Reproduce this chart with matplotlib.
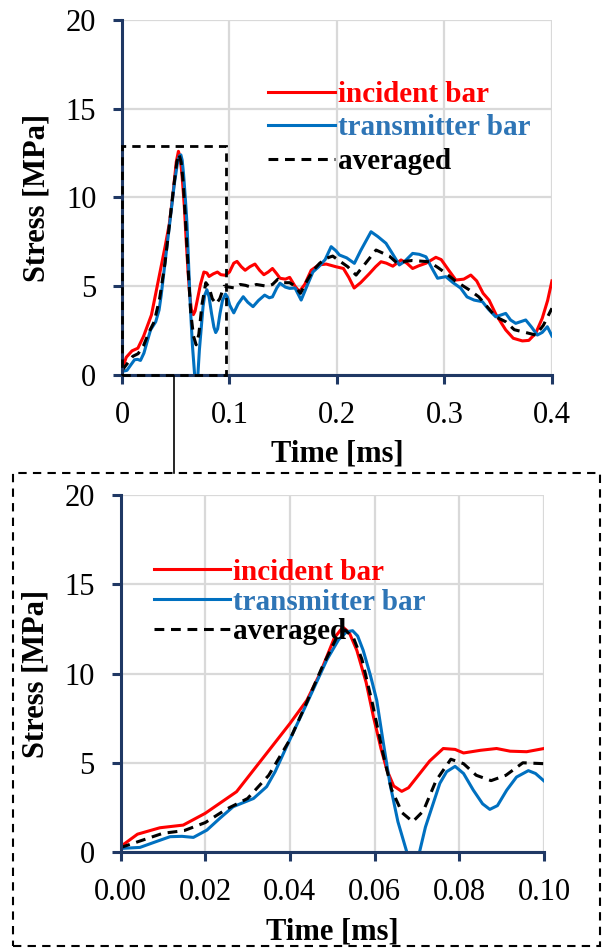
import numpy as np
import matplotlib
matplotlib.use("Agg")
import matplotlib.pyplot as plt
from matplotlib.patches import Rectangle
from matplotlib.lines import Line2D

plt.rcParams['font.family'] = ['Liberation Serif', 'DejaVu Serif']

# incident bar
t_inc = [0, 0.004, 0.0093, 0.0148, 0.020, 0.0274, 0.0345, 0.040, 0.044, 0.0471,
         0.0505, 0.0525, 0.054, 0.0558, 0.058, 0.0597, 0.0615, 0.0629, 0.0645, 0.0664,
         0.068, 0.070, 0.073, 0.0762, 0.079, 0.081, 0.085, 0.0888, 0.092, 0.0959,
         0.1, 0.104, 0.107, 0.111, 0.1146, 0.119, 0.1237, 0.128, 0.132, 0.136,
         0.14, 0.144, 0.147, 0.152, 0.156, 0.161, 0.165, 0.17, 0.176, 0.183,
         0.19, 0.199, 0.206, 0.211, 0.216, 0.222, 0.23, 0.236, 0.241, 0.246,
         0.252, 0.2596, 0.265, 0.2704, 0.276, 0.283, 0.292, 0.297, 0.304, 0.3106,
         0.318, 0.3245, 0.33, 0.336, 0.3415, 0.348, 0.357, 0.364, 0.3725, 0.3785,
         0.3849, 0.391, 0.396, 0.4]
s_inc = [0.3, 1.0, 1.36, 1.51, 2.17, 3.38, 5.53, 7.2, 8.5, 10.0,
         12.0, 12.6, 12.3, 11.3, 9.5, 7.6, 5.8, 4.6, 3.7, 3.4,
         3.6, 4.2, 5.1, 5.8, 5.75, 5.55, 5.7, 5.8, 5.65, 5.62,
         5.8, 6.3, 6.4, 6.1, 5.9, 6.1, 6.25, 5.9, 5.65, 5.8,
         6.0, 5.7, 5.45, 5.4, 5.5, 5.0, 4.7, 5.1, 5.9, 6.2,
         6.25, 6.1, 6.0, 5.5, 4.9, 5.2, 5.7, 6.1, 6.38, 6.3,
         6.13, 6.48, 6.3, 6.0, 6.15, 6.3, 6.63, 6.5, 5.9, 5.35,
         5.4, 5.63, 5.3, 4.6, 4.22, 3.4, 2.54, 2.07, 1.92, 1.95,
         2.35, 3.2, 4.2, 5.3]

# transmitter bar
t_tra = [0, 0.0046, 0.008, 0.0117, 0.0145, 0.0172, 0.0204, 0.0235, 0.0266, 0.0314,
         0.0345, 0.0365, 0.0392, 0.044, 0.0487, 0.0515, 0.0534, 0.0548, 0.056, 0.0573,
         0.059, 0.0605, 0.062, 0.0636, 0.0655, 0.0676, 0.069, 0.0703, 0.072, 0.0754,
         0.077, 0.079, 0.081, 0.0833, 0.0855, 0.0872, 0.089, 0.0912, 0.0935, 0.0963,
         0.098, 0.1002, 0.104, 0.108, 0.1128, 0.117, 0.1219, 0.127, 0.1327, 0.137,
         0.14, 0.144, 0.147, 0.152, 0.156, 0.161, 0.1667, 0.172, 0.1776, 0.183,
         0.189, 0.1946, 0.199, 0.2023, 0.209, 0.2162, 0.222, 0.2317, 0.238, 0.2456,
         0.252, 0.258, 0.263, 0.2704, 0.2765, 0.2828, 0.2885, 0.2936, 0.3013, 0.308,
         0.315, 0.321, 0.3276, 0.3353, 0.341, 0.3477, 0.357, 0.3615, 0.3663, 0.3756,
         0.381, 0.3864, 0.391, 0.3957, 0.4]
s_tra = [0.2, 0.26, 0.55, 0.86, 0.88, 0.82, 1.23, 1.9, 2.54, 3.0,
         3.66, 4.5, 5.9, 8.33, 10.76, 11.9, 12.34, 12.4, 12.1, 11.3,
         9.9, 8.5, 6.2, 3.85, 1.7, 0.0, -0.7, -0.3, 1.4, 3.85,
         4.5, 4.8, 4.4, 3.47, 2.7, 2.39, 2.6, 3.47, 4.2, 4.56,
         4.4, 3.94, 3.5, 4.0, 4.41, 4.1, 3.85, 4.2, 4.5, 4.35,
         4.4, 4.9, 5.17, 4.95, 4.88, 4.9, 4.22, 5.0, 5.8, 6.1,
         6.5, 7.23, 7.0, 6.76, 6.6, 6.29, 7.0, 8.07, 7.8, 7.42,
         6.8, 6.2, 6.4, 6.85, 6.8, 6.66, 6.0, 5.45, 5.54, 5.2,
         4.9, 4.4, 4.22, 4.13, 3.7, 3.28, 3.47, 3.1, 2.91, 3.1,
         2.7, 2.25, 2.4, 2.72, 2.2]

# averaged
t_avg = [0, 0.005, 0.01, 0.015, 0.02, 0.025, 0.03, 0.035, 0.04, 0.044,
         0.0475, 0.051, 0.053, 0.055, 0.057, 0.0595, 0.062, 0.064, 0.0665, 0.069,
         0.0715, 0.0745, 0.078, 0.081, 0.084, 0.0875, 0.091, 0.095, 0.1, 0.105,
         0.11, 0.115, 0.12, 0.125, 0.13, 0.135, 0.14, 0.145, 0.15, 0.156,
         0.161, 0.166, 0.172, 0.178, 0.184, 0.19, 0.196, 0.203, 0.21, 0.2178,
         0.224, 0.2364, 0.2487, 0.256, 0.263, 0.27, 0.2858, 0.294, 0.302, 0.31,
         0.323, 0.332, 0.3477, 0.357, 0.365, 0.3725, 0.385, 0.392, 0.4]
s_avg = [0.25, 0.65, 1.05, 1.2, 1.65, 2.4, 3.0, 4.3, 6.3, 8.4,
         10.3, 12.0, 12.45, 12.0, 10.8, 8.3, 5.5, 3.5, 2.2, 1.7,
         2.3, 4.0, 5.2, 4.95, 4.3, 4.0, 4.3, 5.0, 4.95, 4.9,
         5.1, 5.05, 4.95, 5.1, 5.05, 5.0, 5.1, 5.4, 5.2, 5.2,
         5.0, 4.6, 5.3, 5.9, 6.3, 6.57, 6.7, 6.4, 6.1, 5.63,
         6.1, 7.04, 6.7, 6.3, 6.4, 6.45, 6.38, 6.05, 5.7, 5.3,
         4.8, 4.4, 3.28, 3.0, 2.55, 2.44, 2.25, 2.8, 3.76]

labels = ["incident bar", "transmitter bar", "averaged"]
colors = ["#FF0000", "#0070C0", "black"]
text_colors = ["#FF0000", "#2E75B6", "black"]

NAVY = "#1F3864"
FS = 22


def estilo_eixos(ax, xlim, xticks, fmt):
    ax.set_xlim(*xlim)
    ax.set_ylim(0, 20)
    ax.set_xticks(xticks)
    ax.set_xticklabels([fmt.format(v) for v in xticks])
    ax.set_yticks([0, 5, 10, 15, 20])
    ax.grid(True, color="#D9D9D9", linewidth=1.6)
    ax.set_axisbelow(True)
    for lado in ["top", "right"]:
        ax.spines[lado].set_visible(False)
    for lado in ["left", "bottom"]:
        ax.spines[lado].set_color(NAVY)
        ax.spines[lado].set_linewidth(2.2)
    ax.tick_params(axis="both", direction="out", length=6.5, width=2.2,
                   color=NAVY, labelsize=FS, pad=12)
    ax.set_xlabel("Time [ms]", fontsize=FS, fontweight="bold")
    ax.set_ylabel("Stress [MPa]", fontsize=FS, fontweight="bold")
    ax.xaxis.set_label_coords(0.5, -0.182)
    ax.yaxis.set_label_coords(-0.165, 0.5)


def plotar_series(ax):
    l1, = ax.plot(t_inc, s_inc, color=colors[0], lw=2.2)
    l2, = ax.plot(t_tra, s_tra, color=colors[1], lw=2.2)
    l3, = ax.plot(t_avg, s_avg, color=colors[2], lw=2.2, dashes=(3.2, 2.2))
    return [l1, l2, l3]


def plotar_legenda(ax, linhas, anchor, hl, spacing):
    ax.legend(linhas, labels, loc="upper left", bbox_to_anchor=anchor,
              frameon=False, handlelength=hl, handletextpad=0.1,
              labelspacing=spacing, borderpad=0, borderaxespad=0,
              prop={"size": 21, "weight": "bold"}, labelcolor=text_colors)


fig = plt.figure(figsize=(6.09, 9.52), dpi=100)

ax1 = fig.add_axes([0.2003, 0.6061, 0.706, 0.3729])
linhas = plotar_series(ax1)
estilo_eixos(ax1, (0, 0.4), [0, 0.1, 0.2, 0.3, 0.4], "{:g}")
plotar_legenda(ax1, linhas, (0.34, 0.828), 2.3, 0.22)

# zoom window
ax1.add_patch(Rectangle((0, 0), 0.097, 12.9, fill=False, edgecolor="black",
                        lw=2.0, linestyle=(0, (3, 2.2)), clip_on=False, zorder=5))

ax2 = fig.add_axes([0.1979, 0.1050, 0.6954, 0.375])
linhas2 = plotar_series(ax2)
estilo_eixos(ax2, (0, 0.1), [0, 0.02, 0.04, 0.06, 0.08, 0.10], "{:.2f}")
plotar_legenda(ax2, linhas2, (0.079, 0.822), 2.6, 0.1)

# outer box and connector
W, H = 609, 952
fig.add_artist(Rectangle((13 / W, 1 - 946 / H), (600 - 13) / W, (946 - 473) / H,
                         transform=fig.transFigure, fill=False, edgecolor="black",
                         lw=1.5, linestyle=(0, (4, 3))))
fig.add_artist(Line2D([174 / W, 174 / W], [1 - 376 / H, 1 - 473 / H],
                      transform=fig.transFigure, color="black", lw=1.2))

fig.savefig("out.png", dpi=100)
